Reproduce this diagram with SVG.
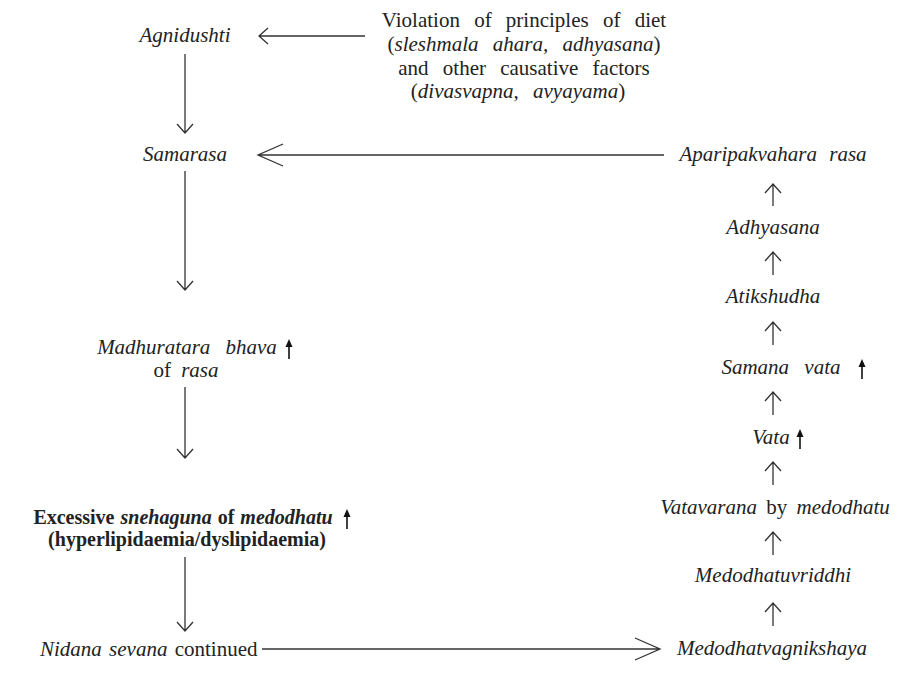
<svg xmlns="http://www.w3.org/2000/svg" width="917" height="675" viewBox="0 0 917 675">
<style>
text{font-size:21px;fill:#222;text-anchor:middle;word-spacing:5px}
.i{font-style:italic}
.ln{stroke:#333;stroke-width:1.3;fill:none}
.bold{stroke:#111;stroke-width:1.6;fill:none}
.fh{fill:#111;stroke:none}
</style>

<g id="causes">
<text font-family="Liberation Serif, Times New Roman, Times, serif" x="524" y="27" style="word-spacing:9px">Violation of principles of diet</text>
<text font-family="Liberation Serif, Times New Roman, Times, serif" x="524" y="51" style="word-spacing:9px">(<tspan class="i">sleshmala ahara, adhyasana</tspan>)</text>
<text font-family="Liberation Serif, Times New Roman, Times, serif" x="524" y="75" style="word-spacing:9px">and other causative factors</text>
<text font-family="Liberation Serif, Times New Roman, Times, serif" x="518" y="98" style="word-spacing:9px">(<tspan class="i">divasvapna, avyayama</tspan>)</text>
</g>
<g id="agnidushti"><text class="i" font-family="Liberation Serif, Times New Roman, Times, serif" x="185" y="42">Agnidushti</text></g>
<g id="samarasa"><text class="i" font-family="Liberation Serif, Times New Roman, Times, serif" x="185" y="161">Samarasa</text></g>
<g id="madhuratara">
<text class="i" font-family="Liberation Serif, Times New Roman, Times, serif" x="187" y="354" style="word-spacing:10px">Madhuratara bhava</text>
<text font-family="Liberation Serif, Times New Roman, Times, serif" x="186" y="377">of <tspan class="i">rasa</tspan></text>
<line class="bold" x1="289" y1="359" x2="289" y2="346"/>
<path class="fh" d="M285.5,347 L289,339 L292.5,347 Z"/>
</g>
<g id="snehaguna">
<text font-family="Liberation Serif, Times New Roman, Times, serif" font-weight="bold" x="183" y="524" style="font-size:20px;word-spacing:1px">Excessive <tspan class="i">snehaguna</tspan> of <tspan class="i">medodhatu</tspan></text>
<text font-family="Liberation Serif, Times New Roman, Times, serif" font-weight="bold" x="187" y="546" style="font-size:20px;word-spacing:0">(hyperlipidaemia/dyslipidaemia)</text>
<line class="bold" x1="347" y1="529" x2="347" y2="516"/>
<path class="fh" d="M343.5,517 L347,509 L350.5,517 Z"/>
</g>
<g id="nidana"><text font-family="Liberation Serif, Times New Roman, Times, serif" x="40" y="656" style="text-anchor:start;word-spacing:2px"><tspan class="i">Nidana sevana</tspan> continued</text></g>
<g id="aparipakvahara"><text class="i" font-family="Liberation Serif, Times New Roman, Times, serif" x="773" y="161" style="word-spacing:7px">Aparipakvahara rasa</text></g>
<g id="adhyasana"><text class="i" font-family="Liberation Serif, Times New Roman, Times, serif" x="773" y="234">Adhyasana</text></g>
<g id="atikshudha"><text class="i" font-family="Liberation Serif, Times New Roman, Times, serif" x="773" y="303">Atikshudha</text></g>
<g id="samanavata">
<text class="i" font-family="Liberation Serif, Times New Roman, Times, serif" x="781" y="374" style="word-spacing:10px">Samana vata</text>
<line class="bold" x1="862" y1="379" x2="862" y2="366"/>
<path class="fh" d="M858.5,367 L862,359 L865.5,367 Z"/>
</g>
<g id="vata">
<text class="i" font-family="Liberation Serif, Times New Roman, Times, serif" x="771" y="444">Vata</text>
<line class="bold" x1="800" y1="449" x2="800" y2="436"/>
<path class="fh" d="M796.5,437 L800,429 L803.5,437 Z"/>
</g>
<g id="vatavarana"><text font-family="Liberation Serif, Times New Roman, Times, serif" x="775" y="514" style="word-spacing:4px"><tspan class="i">Vatavarana</tspan> by <tspan class="i">medodhatu</tspan></text></g>
<g id="medodhatuvriddhi"><text class="i" font-family="Liberation Serif, Times New Roman, Times, serif" x="773" y="582">Medodhatuvriddhi</text></g>
<g id="medodhatvagnikshaya"><text class="i" font-family="Liberation Serif, Times New Roman, Times, serif" x="772" y="655">Medodhatvagnikshaya</text></g>

<g id="connectors">
<path class="ln" d="M365,36 H259 M268,28 L259,36 L268,44"/>
<path class="ln" d="M185,54 V133 M177,124 L185,133 L193,124"/>
<path class="ln" d="M664,155 H258 M283,144 L258,155 L283,166"/>
<path class="ln" d="M185,171 V290 M177,281 L185,290 L193,281"/>
<path class="ln" d="M185,387 V458 M177,449 L185,458 L193,449"/>
<path class="ln" d="M185,557 V631 M177,622 L185,631 L193,622"/>
<path class="ln" d="M262,649 H660 M635,638 L660,649 L635,660"/>
<path class="ln" d="M773,206 V184 M765,193 L773,184 L781,193"/>
<path class="ln" d="M773,275 V252 M765,261 L773,252 L781,261"/>
<path class="ln" d="M773,345 V322 M765,331 L773,322 L781,331"/>
<path class="ln" d="M773,415 V392 M765,401 L773,392 L781,401"/>
<path class="ln" d="M773,485 V462 M765,471 L773,462 L781,471"/>
<path class="ln" d="M773,555 V532 M765,541 L773,532 L781,541"/>
<path class="ln" d="M773,626 V603 M765,612 L773,603 L781,612"/>
</g>
</svg>
